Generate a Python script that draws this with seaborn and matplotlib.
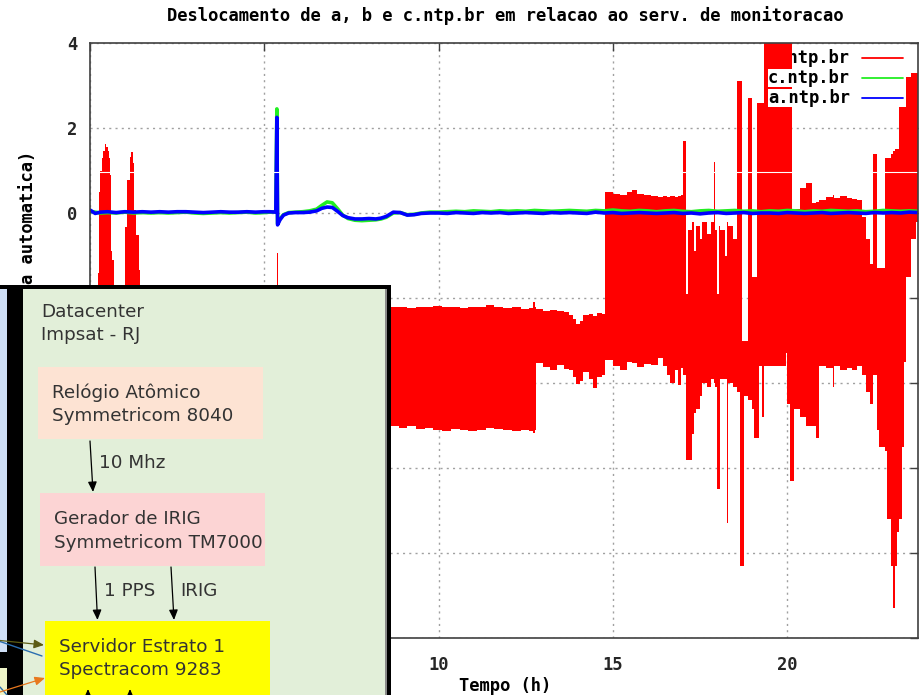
import matplotlib
matplotlib.use("Agg")
import matplotlib.pyplot as plt
from matplotlib.lines import Line2D
from matplotlib.patches import Rectangle
import pandas as pd
import seaborn as sns

# ---------------------------------------------------------------------------
# Offsets (ms) of a.ntp.br and c.ntp.br against the monitoring server
# ---------------------------------------------------------------------------
tempo_ac = [0.0, 0.15, 0.3, 0.5, 0.75, 1.0, 1.25, 1.5, 1.75, 2.0, 2.25, 2.5,
            2.75, 3.0, 3.25, 3.5, 3.75, 4.0, 4.25, 4.5, 4.75, 5.0,
            5.15, 5.33, 5.36, 5.38, 5.45, 5.55, 5.7, 5.9, 6.1, 6.3, 6.5,
            6.65, 6.8, 6.95, 7.1, 7.25, 7.4, 7.6, 7.8, 8.0, 8.2, 8.35, 8.5,
            8.7, 8.9, 9.1, 9.3, 9.5, 9.75,
            10.0, 10.25, 10.5, 10.75, 11.0, 11.25, 11.5, 11.75, 12.0, 12.25,
            12.5, 12.75, 13.0, 13.25, 13.5, 13.75, 14.0, 14.25, 14.5, 14.75,
            15.0, 15.25, 15.5, 15.75, 16.0, 16.25, 16.5, 16.75, 17.0, 17.25,
            17.5, 17.75, 18.0, 18.25, 18.5, 18.75, 19.0, 19.25, 19.5, 19.75,
            20.0, 20.25, 20.5, 20.75, 21.0, 21.25, 21.5, 21.75, 22.0, 22.25,
            22.5, 22.75, 23.0, 23.25, 23.5, 23.75]

a_ntp = [0.07, -0.01, 0.02, 0.03, 0.01, 0.03, 0.02, 0.03, 0.02, 0.03, 0.02, 0.03,
         0.03, 0.02, 0.01, 0.02, 0.03, 0.02, 0.02, 0.03, 0.02, 0.03,
         0.03, 0.02, 2.25, -0.28, -0.16, -0.05, 0.0, 0.01, 0.01, 0.02, 0.05,
         0.11, 0.14, 0.13, 0.04, -0.06, -0.11, -0.14, -0.14, -0.13, -0.14, -0.12, -0.08,
         0.02, 0.01, -0.05, -0.04, -0.01, 0.0,
         0.0, -0.01, 0.01, 0.0, -0.01, 0.01, 0.0, 0.01, -0.01, 0.0,
         0.01, 0.0, -0.01, 0.01, 0.0, 0.01, 0.0, -0.01, 0.02, 0.0,
         0.01, -0.01, 0.0, 0.01, 0.0, -0.01, 0.0, 0.01, -0.01, 0.0,
         -0.02, 0.0, 0.01, -0.01, 0.0, 0.01, -0.01, 0.0, 0.0, -0.01,
         0.01, 0.0, -0.01, 0.0, 0.01, -0.01, 0.0, 0.01, 0.0, -0.01,
         0.01, 0.0, 0.01, 0.0, 0.02, 0.01]

c_ntp = [0.04, 0.02, 0.0, 0.01, 0.0, 0.02, 0.0, 0.01, 0.0, 0.01, 0.0, 0.01,
         0.02, 0.0, -0.01, 0.0, 0.01, 0.0, 0.01, 0.02, 0.0, 0.01,
         0.02, 0.03, 2.45, -0.25, -0.14, -0.04, 0.01, 0.02, 0.03, 0.05, 0.09,
         0.18, 0.26, 0.24, 0.10, -0.05, -0.13, -0.17, -0.18, -0.17, -0.16, -0.14, -0.10,
         0.0, 0.01, -0.04, -0.03, 0.0, 0.02,
         0.02, 0.03, 0.04, 0.03, 0.05, 0.04, 0.03, 0.05, 0.04, 0.05,
         0.04, 0.06, 0.05, 0.04, 0.05, 0.06, 0.05, 0.04, 0.06, 0.05,
         0.07, 0.05, 0.04, 0.06, 0.05, 0.03, 0.05, 0.06, 0.04, 0.03,
         0.05, 0.06, 0.04, 0.05, 0.06, 0.04, 0.05, 0.03, 0.05, 0.04,
         0.06, 0.05, 0.03, 0.05, 0.04, 0.06, 0.05, 0.04, 0.05, 0.03,
         0.04, 0.06, 0.05, 0.04, 0.05, 0.04]

# b.ntp.br oscillates fast: upper and lower envelope of its trace,
# each value holding until the next time stamp
tempo_b = [0.0, 0.2, 0.23, 0.26, 0.30, 0.34, 0.38, 0.43, 0.47, 0.51, 0.55,
           0.58, 0.60, 0.64, 0.68, 0.88, 0.90, 0.99, 1.07, 1.14, 1.19, 1.23,
           1.25, 1.33, 1.40, 1.44, 5.355, 5.38,
           8.6, 8.85, 9.1, 9.35, 9.6, 9.85, 10.1, 10.35, 10.6, 10.85, 11.1,
           11.35, 11.6, 11.85, 12.1, 12.35, 12.6, 12.72, 12.76,
           12.8, 13.0, 13.2, 13.4, 13.6, 13.75, 13.85, 13.95, 14.05, 14.15,
           14.3, 14.42, 14.55, 14.68,
           14.78, 15.0, 15.2, 15.4, 15.55, 15.7, 15.9, 16.1, 16.3, 16.45,
           16.55, 16.65, 16.78, 16.88, 16.96,
           17.02, 17.1, 17.15, 17.26, 17.33, 17.38, 17.5, 17.56, 17.7, 17.8,
           17.9, 17.94, 17.99, 18.04, 18.08, 18.22, 18.26, 18.31, 18.45,
           18.55, 18.64, 18.7, 18.76, 18.86, 18.98, 19.04, 19.12, 19.18, 19.28,
           19.34, 19.95, 20.0, 20.08, 20.15, 20.2, 20.36, 20.55, 20.7, 20.82,
           20.9, 21.1, 21.3, 21.35, 21.5, 21.7, 21.85, 22.0, 22.15, 22.25,
           22.38, 22.47, 22.56, 22.62, 22.8, 22.86, 22.98, 23.02, 23.08, 23.14,
           23.2, 23.28, 23.36, 23.42, 23.55, 23.68, 23.75]

b_max = [-2.0, -2.0, -1.4, 0.5, 1.0, 1.3, 1.45, 1.62, 1.55, 1.45, 1.3,
         0.9, -0.9, -1.1, -2.0, -2.0, -1.8, -0.32, 0.78, 1.32, 1.44, 1.17,
         0.07, -0.52, -1.34, -2.2, -0.93, -2.2,
         -2.22, -2.2, -2.24, -2.2, -2.22, -2.18, -2.22, -2.2, -2.24, -2.2, -2.2,
         -2.16, -2.22, -2.24, -2.22, -2.26, -2.24, -2.1, -2.2,
         -2.25, -2.3, -2.28, -2.3, -2.32, -2.4, -2.5, -2.62, -2.55, -2.4,
         -2.38, -2.42, -2.36, -2.38,
         0.5, 0.45, 0.42, 0.5, 0.54, 0.44, 0.42, 0.4, 0.38, 0.4,
         0.38, 0.4, 0.38, 0.4, 0.42,
         1.7, -1.9, -0.4, -0.2, -0.9, -0.3, -0.6, -0.2, -0.5, -0.2,
         1.2, -0.4, -1.9, -0.3, -0.4, -1.0, -0.2, -0.3, -0.6,
         3.1, 3.1, -3.0, -3.0, 2.7, -1.5, -1.5, 2.6, 2.6, 2.6,
         4.2, 4.2, 4.2, 4.2, 0.1, 0.1, 0.6, 0.7, 0.23, 0.25,
         0.3, 0.38, 0.42, 0.35, 0.4, 0.36, 0.32, 0.3, -0.1, -0.6,
         -1.2, 1.4, -1.3, -1.3, 1.3, 1.3, 1.4, 1.45, 1.5, 1.5,
         2.5, 2.5, 2.5, 3.2, 3.3, 3.3, 3.3]

b_min = [-4.5, -4.5, -4.5, -4.5, -4.5, -4.5, -4.5, -4.5, -4.5, -4.5, -4.5,
         -4.5, -4.5, -4.5, -4.5, -4.5, -4.5, -4.5, -4.5, -4.5, -4.5, -4.5,
         -4.5, -4.5, -4.5, -4.5, -4.5, -4.5,
         -5.0, -5.05, -5.02, -5.08, -5.05, -5.1, -5.12, -5.08, -5.1, -5.12, -5.1,
         -5.05, -5.08, -5.1, -5.12, -5.1, -5.14, -5.18, -5.1,
         -3.52, -3.62, -3.7, -3.58, -3.66, -3.7, -3.85, -4.02, -3.95, -3.75,
         -3.9, -4.12, -3.85, -3.82,
         -3.46, -3.6, -3.7, -3.5, -3.52, -3.62, -3.56, -3.58, -3.42, -3.6,
         -3.8, -4.0, -3.7, -4.05, -3.65,
         -3.8, -5.8, -5.8, -5.2, -4.7, -4.6, -4.3, -4.0, -4.1, -3.9,
         -4.0, -4.1, -6.5, -6.5, -3.9, -3.9, -7.3, -4.0, -4.1,
         -4.2, -8.3, -8.3, -4.3, -4.4, -4.6, -5.3, -5.3, -3.6, -4.8,
         -3.6, -3.3, -4.5, -6.3, -6.3, -4.6, -4.8, -5.0, -5.0, -5.3,
         -3.6, -3.65, -4.1, -3.6, -3.7, -3.65, -3.7, -3.6, -3.8, -4.2,
         -4.5, -3.8, -5.1, -5.5, -5.6, -7.2, -8.3, -9.3, -8.3, -7.5,
         -7.2, -5.5, -3.5, -1.5, -0.6, -0.2, -0.1]

x_ticks = [0, 5, 10, 15, 20]
y_ticks = [-10, -8, -6, -4, -2, 0, 2, 4]
legend_labels = ["b.ntp.br", "c.ntp.br", "a.ntp.br"]
legend_colors = ["#ff0000", "#22ee22", "#0000ff"]

titulo = "Deslocamento de a, b e c.ntp.br em relacao ao serv. de monitoracao"
rotulo_x = "Tempo (h)"
rotulo_y = "Deslocamento (ms) (escala automatica)"

# ---------------------------------------------------------------------------
sns.set_theme(style="white")
plt.rcParams["font.family"] = ["DejaVu Sans Mono", "DejaVu Sans"]

W, H = 919, 695
fig = plt.figure(figsize=(W / 100, H / 100), dpi=100)
fig.patch.set_facecolor("white")


def fx(px):
    return px / W


def fy(py):
    return 1 - py / H


MONO = dict(family="DejaVu Sans Mono", fontweight="bold", fontsize=12.35, color="black")

ax = fig.add_axes([fx(90), fy(638), 828 / W, 595 / H])
ax.set_facecolor("white")

# b.ntp.br band, drawn without smoothing like the raster original
ax.fill_between(tempo_b, b_min, b_max, step="post", facecolor="#ff0000",
                edgecolor="none", lw=0, antialiased=False, zorder=2)

df = pd.DataFrame({"tempo": tempo_ac, "c": c_ntp, "a": a_ntp})
sns.lineplot(data=df, x="tempo", y="c", color="#22ee22", lw=2.6, ax=ax, zorder=3)
sns.lineplot(data=df, x="tempo", y="a", color="#0000ff", lw=2.6, ax=ax, zorder=4)
ax.set_xlabel("")
ax.set_ylabel("")

ax.set_xlim(0, 23.75)
ax.set_ylim(-10, 4)
ax.set_xticks(x_ticks)
ax.set_yticks(y_ticks)
ax.grid(True, color="#a0a0a0", lw=1.0, linestyle=(0, (1.5, 3)))
ax.set_axisbelow(True)

# thin white scan line crossing the plot
ax.axhline(0.96, color="white", lw=0.8, zorder=5)

for s in ax.spines.values():
    s.set_color("#404040")
    s.set_linewidth(1.2)
    s.set_zorder(6)

ax.tick_params(axis="both", direction="in", length=6, width=1, color="#404040",
               top=True, right=True, labelsize=12.35)
ax.tick_params(axis="x", pad=13)
ax.tick_params(axis="y", pad=9)
fig.canvas.draw()
for lab, v in zip(ax.get_xticklabels(), x_ticks):
    lab.set_fontweight("bold")
    lab.set_family("DejaVu Sans Mono")
    lab.set_visible(v >= 10)          # 0 and 5 sit under the diagram
for lab, v in zip(ax.get_yticklabels(), y_ticks):
    lab.set_fontweight("bold")
    lab.set_family("DejaVu Sans Mono")
    lab.set_visible(v >= 0)           # negative labels sit under the diagram

# key: first entry sits under the data, the others are drawn on a clear box
for i, (lab, col) in enumerate(zip(legend_labels, legend_colors)):
    py = 58 + 20 * i
    yy = (638 - py) / 595
    if i == 0:
        ax.text((850 - 90) / 828, yy, lab, transform=ax.transAxes, ha="right",
                va="center", zorder=1, **MONO)
    else:
        ax.text((850 - 90) / 828, yy, lab, transform=ax.transAxes, ha="right",
                va="center", zorder=2.5,
                bbox=dict(facecolor="white", edgecolor="none", pad=0.3), **MONO)
    ax.add_line(Line2D([(862 - 90) / 828, (903 - 90) / 828], [yy, yy],
                       transform=ax.transAxes, color=col, lw=1.3, zorder=1))

fig.text(fx(505), fy(16), titulo, ha="center", va="center", **MONO)
fig.text(fx(505), fy(686), rotulo_x, ha="center", va="center", **MONO)
fig.text(fx(28), fy(340), rotulo_y, ha="center", va="center", rotation=90, **MONO)

# ---------------------------------------------------------------------------
# Timing chain diagram in the lower left corner
# ---------------------------------------------------------------------------
ov = fig.add_axes([0, 0, 391 / W, 410 / H])
ov.set_xlim(0, 391)
ov.set_ylim(695, 285)
ov.set_axis_off()
ov.set_zorder(10)

ov.add_patch(Rectangle((0, 285), 391, 410, color="black", lw=0))
ov.add_patch(Rectangle((0, 289), 7, 363, color="#cfdff6", lw=0))
ov.add_patch(Rectangle((0, 668), 7, 27, color="#eef5c8", lw=0))
ov.add_patch(Rectangle((23, 289), 362, 406, color="#e2efd9", lw=0))
ov.add_patch(Rectangle((385, 289), 1.5, 406, color="#8a8a8a", lw=0))

ov.add_patch(Rectangle((38, 367), 225, 72, color="#fde3d3", lw=0))
ov.add_patch(Rectangle((40, 493), 225, 73, color="#fcd4d4", lw=0))
ov.add_patch(Rectangle((45, 621), 225, 74, color="#ffff00", lw=0))

TXT = dict(family="DejaVu Sans", fontweight="normal", fontsize=13.2,
           color="#333333", ha="left", va="center")
ov.text(41, 312, "Datacenter", **TXT)
ov.text(41, 335, "Impsat - RJ", **TXT)
ov.text(52, 393, "Relógio Atômico", **TXT)
ov.text(52, 416, "Symmetricom 8040", **TXT)
ov.text(54, 519, "Gerador de IRIG", **TXT)
ov.text(54, 543, "Symmetricom TM7000", **TXT)
ov.text(59, 647, "Servidor Estrato 1", **TXT)
ov.text(59, 670, "Spectracom 9283", **TXT)
ov.text(99, 463, "10 Mhz", **TXT)
ov.text(104, 591, "1 PPS", **TXT)
ov.text(180, 591, "IRIG", **TXT)

ARROW = dict(arrowstyle="-|>,head_length=0.5,head_width=0.22", lw=0.9,
             shrinkA=0, shrinkB=0)
for (x0, y0, x1, y1, col) in [(90, 441, 93, 492, "black"),
                               (95, 567, 97.5, 620, "black"),
                               (171, 567, 174, 620, "black"),
                               (88, 698, 88, 689, "black"),
                               (130, 698, 130, 689, "black"),
                               (0, 640.5, 44, 645, "#5c5c14"),
                               (0, 692, 45, 678, "#e8781e")]:
    ov.annotate("", xy=(x1, y1), xytext=(x0, y0),
                arrowprops=dict(color=col, **ARROW))
ov.plot([0, 42], [641.5, 656], color="#2a6eb0", lw=1)
ov.plot([0, 7], [687, 695], color="#2a6eb0", lw=1)

fig.savefig("out.png", dpi=100)
